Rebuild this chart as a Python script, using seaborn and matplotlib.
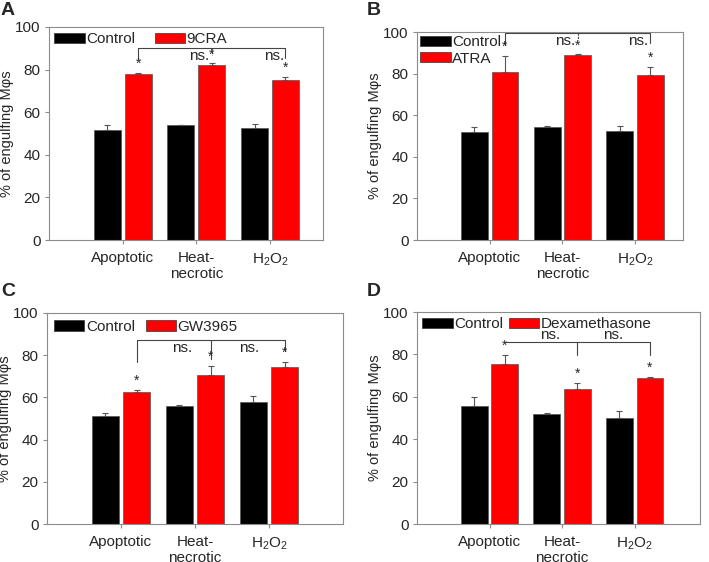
"""Engulfing macrophages: control vs nuclear-receptor agonists, four panels."""
import matplotlib
matplotlib.use("Agg")
import matplotlib.pyplot as plt
from matplotlib.patches import Patch
import pandas as pd
import seaborn as sns

# ---- data --------------------------------------------------------------------
categories = ["Apoptotic", "Heat-\nnecrotic", r"H$_\mathregular{2}$O$_\mathregular{2}$"]
hue_order = ["Control", "Treated"]

ctrl_a = [51.7, 53.8, 52.5]
ctrl_a_err = [2.1, 0.4, 1.9]
trt_a = [78.1, 82.3, 74.9]
trt_a_err = [0.4, 0.6, 1.7]

ctrl_b = [52.0, 54.3, 52.6]
ctrl_b_err = [2.3, 0.3, 2.0]
trt_b = [80.7, 88.8, 79.1]
trt_b_err = [7.6, 0.4, 4.0]

ctrl_c = [51.3, 55.7, 57.8]
ctrl_c_err = [1.5, 0.8, 3.0]
trt_c = [62.7, 70.4, 74.2]
trt_c_err = [0.9, 4.6, 2.4]

ctrl_d = [55.5, 51.9, 50.0]
ctrl_d_err = [4.4, 0.3, 3.5]
trt_d = [75.5, 63.7, 68.7]
trt_d_err = [4.4, 2.8, 0.8]

treat_names = ["9CRA", "ATRA", "GW3965", "Dexamethasone"]
panel_letters = ["A", "B", "C", "D"]

# significance brackets: (line y, [(drop x, drop end y, dashed)], ns text [(x, y, ha, va)])
bracket_a = (90.1, [(0.21, 84.6, False), (1.21, 87.0, True), (2.21, 85.5, False)],
             [(1.18, 89.8, "right", "top"), (2.19, 89.8, "right", "top")])
bracket_b = (99.5, [(0.21, 93.9, False), (1.21, 96.3, True), (2.21, 94.7, False)],
             [(1.17, 98.9, "right", "top"), (2.18, 98.9, "right", "top")])
bracket_c = (87.0, [(0.21, 77.0, False), (1.21, 78.0, False), (2.21, 82.0, False)],
             [(0.82, 86.5, "center", "top"), (1.73, 86.5, "center", "top")])
bracket_d = (85.8, [(1.21, 79.9, False), (2.21, 79.9, False)],
             [(0.84, 85.9, "center", "bottom"), (1.70, 85.9, "center", "bottom")])

# ---- layout ------------------------------------------------------------------
W, H = 709, 562
sns.set_style("white")
plt.rcParams["font.family"] = ["Liberation Sans", "DejaVu Sans"]
plt.rcParams["mathtext.fontset"] = "custom"
plt.rcParams["mathtext.rm"] = "Liberation Sans"

GRAY = "#8c8c8c"

# axes boxes in pixels: left, top, right, bottom
boxes = [(49, 27, 323, 240), (417, 32, 683, 240), (47, 313, 343, 524), (417, 312, 700, 524)]
xlims = [(-1.0, 2.72), (-1.0, 2.66), (-1.0, 3.0), (-1.0, 2.9)]
letter_pos = [(1, 2), (367, 2), (1, 283), (367, 283)]
legend_ncol = [2, 1, 2, 2]
legend_colspace = [1.25, 0.5, 0.7, 0.35]
legend_pad = [0.25, 0.12, 0.35, 0.25]

ctrl_vals = [ctrl_a, ctrl_b, ctrl_c, ctrl_d]
ctrl_errs = [ctrl_a_err, ctrl_b_err, ctrl_c_err, ctrl_d_err]
trt_vals = [trt_a, trt_b, trt_c, trt_d]
trt_errs = [trt_a_err, trt_b_err, trt_c_err, trt_d_err]
brackets = [bracket_a, bracket_b, bracket_c, bracket_d]

fig = plt.figure(figsize=(W / 100, H / 100), dpi=100)

for i in range(4):
    l, t, r, b = boxes[i]
    ax = fig.add_axes([l / W, (H - b) / H, (r - l) / W, (b - t) / H])

    df = pd.DataFrame({
        "group": categories * 2,
        "cond": ["Control"] * 3 + ["Treated"] * 3,
        "value": ctrl_vals[i] + trt_vals[i],
    })
    sns.barplot(data=df, x="group", y="value", hue="cond", order=categories,
                hue_order=hue_order, palette={"Control": "black", "Treated": "#ff0000"},
                saturation=1, width=0.84, gap=0.12, errorbar=None,
                edgecolor="#555555", linewidth=0.5, legend=False, ax=ax)

    # upward-only error bars and significance stars
    for cont, errs in zip(ax.containers, [ctrl_errs[i], trt_errs[i]]):
        xs = [p.get_x() + p.get_width() / 2 for p in cont]
        ys = [p.get_height() for p in cont]
        ax.errorbar(xs, ys, yerr=[[0] * len(errs), errs], fmt="none",
                    ecolor="#555555", elinewidth=0.8, capsize=2.2, capthick=0.8)
        if cont is ax.containers[1]:
            for x, y, e in zip(xs, ys, errs):
                ax.text(x, y + e + 1.0, "*", ha="center", va="bottom", fontsize=10)

    # brackets
    line_y, drops, ns_txt = brackets[i]
    ax.plot([0.21, 2.21], [line_y, line_y], color="#444444", lw=0.8)
    for dx, dy, dashed in drops:
        ax.plot([dx, dx], [line_y, dy], color="#444444", lw=0.8,
                ls=(0, (2, 1)) if dashed else "-")
    for tx, ty, ha, va in ns_txt:
        ax.text(tx, ty, "ns.", ha=ha, va=va, fontsize=11)

    ax.set_xlim(*xlims[i])
    ax.set_ylim(0, 100)
    ax.set_yticks([0, 20, 40, 60, 80, 100])
    ax.set_xlabel("")
    ax.set_ylabel("% of engulfing M\u03c6s", fontsize=10.5, labelpad=1)
    for sp in ax.spines.values():
        sp.set_color(GRAY)
        sp.set_linewidth(0.8)
    ax.tick_params(axis="both", which="both", direction="out", length=3,
                   width=0.8, color=GRAY, labelsize=11, left=True, bottom=True)
    ax.tick_params(axis="y", pad=3)
    ax.tick_params(axis="x", pad=5)

    handles = [Patch(facecolor="black", edgecolor="#333333", lw=0.5),
               Patch(facecolor="#ff0000", edgecolor="#333333", lw=0.5)]
    ax.legend(handles, ["Control", treat_names[i]], loc="upper left",
              bbox_to_anchor=(0, 1), ncol=legend_ncol[i], frameon=False,
              fontsize=11, handlelength=2.0, handleheight=0.65,
              handletextpad=0.1, columnspacing=legend_colspace[i],
              labelspacing=0.15, borderaxespad=legend_pad[i], borderpad=0.1)

    lx, ly = letter_pos[i]
    fig.text(lx / W, 1 - ly / H, panel_letters[i], ha="left", va="top",
             fontsize=14, fontweight="bold")

fig.savefig("out.png", dpi=100)
